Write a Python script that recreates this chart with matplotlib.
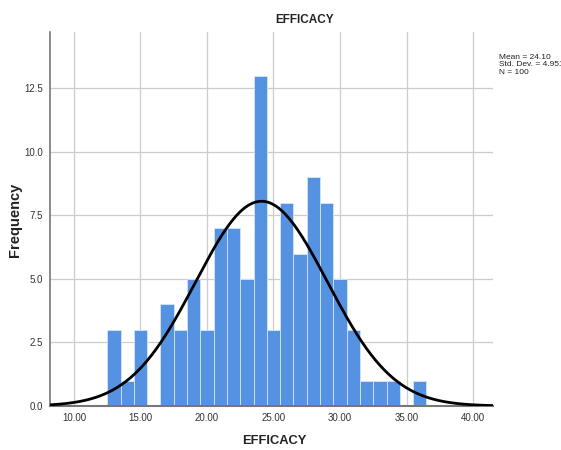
import numpy as np
import matplotlib
matplotlib.use("Agg")
import matplotlib.pyplot as plt

plt.rcParams['font.family'] = ['Liberation Sans', 'DejaVu Sans']

# histogram bins (width 1, centred on integers) and counts
bin_centers = [13, 14, 15, 16, 17, 18, 19, 20, 21, 22, 23, 24,
               25, 26, 27, 28, 29, 30, 31, 32, 33, 34, 35, 36]
counts = [3, 1, 3, 0, 4, 3, 5, 3, 7, 7, 5, 13,
          3, 8, 6, 9, 8, 5, 3, 1, 1, 1, 0, 1]
mean = 24.10
std = 4.951
n = 100
x_ticks = [10, 15, 20, 25, 30, 35, 40]
y_ticks = [0.0, 2.5, 5.0, 7.5, 10.0, 12.5]

fig = plt.figure(figsize=(5.61, 4.5), dpi=100)
ax = fig.add_axes([50 / 561, 1 - 406 / 450, 443 / 561, 374 / 450])

ax.bar(bin_centers, counts, width=1.0, color='#5593e2',
       edgecolor='#d6e5f8', linewidth=0.6, zorder=2)

# fitted normal curve from the reported mean / sd
xs = np.linspace(8.2, 41.5, 400)
ys = n * 1.0 / (std * np.sqrt(2 * np.pi)) * np.exp(-0.5 * ((xs - mean) / std) ** 2)
ax.plot(xs, ys, color='black', lw=2.0, zorder=3, solid_capstyle='round')

ax.set_xlim(8.2, 41.5)
ax.set_ylim(0, 14.72)
ax.set_xticks(x_ticks)
ax.set_xticklabels([f"{v:.2f}" for v in x_ticks])
ax.set_yticks(y_ticks)
ax.set_yticklabels([f"{v:.1f}" for v in y_ticks])
ax.tick_params(length=0, labelsize=7, colors='#333333', pad=5)
ax.grid(True, color='#cccccc', lw=0.9, zorder=0)
ax.set_axisbelow(True)
for s in ['top', 'right']:
    ax.spines[s].set_visible(False)
ax.spines['left'].set_color('#777777')
ax.spines['bottom'].set_color('#777777')
ax.spines['left'].set_linewidth(1.2)
ax.spines['bottom'].set_linewidth(1.5)

fig.text(305 / 561, 1 - 20 / 450, "EFFICACY", ha='center', va='center',
         fontsize=8.5, fontweight='bold', color='#222222')
fig.text(274 / 561, 1 - 441 / 450, "EFFICACY", ha='center', va='center',
         fontsize=9.3, fontweight='bold', color='#222222')
fig.text(15 / 561, 1 - 220 / 450, "Frequency", ha='center', va='center',
         rotation=90, fontsize=10.5, fontweight='bold', color='#222222')
fig.text(499 / 561, 1 - 54 / 450,
         f"Mean = {mean:.2f}\nStd. Dev. = {std:.3f}\nN = {n}",
         ha='left', va='top', fontsize=6, color='#222222', linespacing=1.1)

fig.savefig("out.png", dpi=100)
